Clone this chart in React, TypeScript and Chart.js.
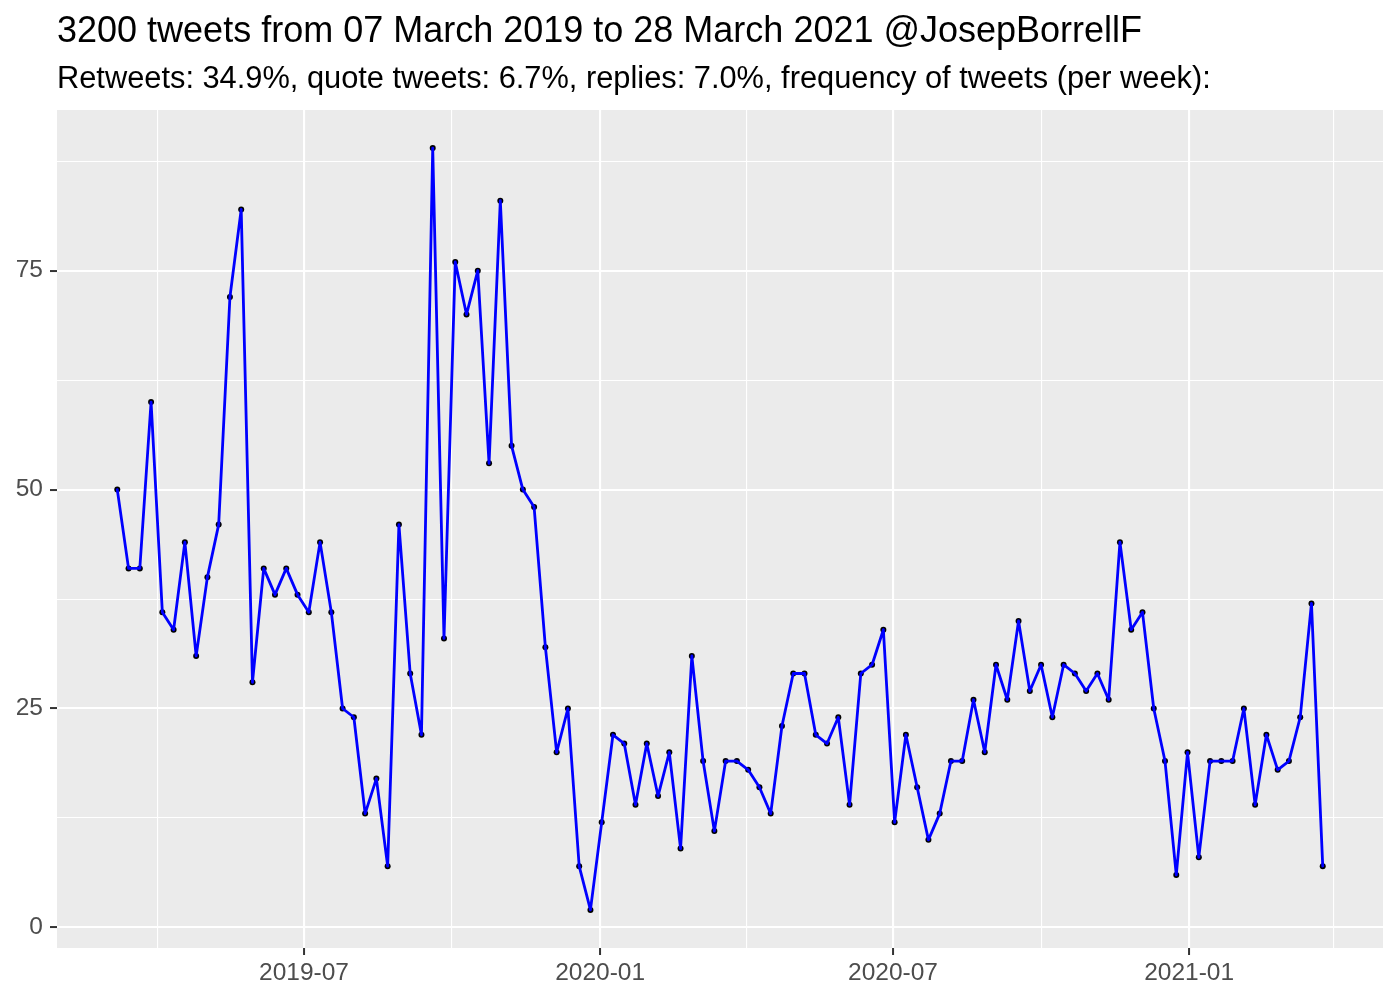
import React, { useEffect, useRef } from 'react';
import { Chart, registerables } from 'chart.js';

Chart.register(...registerables);

const chartTitle = '3200 tweets from 07 March 2019 to 28 March 2021 @JosepBorrellF';
const chartSubtitle =
  'Retweets: 34.9%, quote tweets: 6.7%, replies: 7.0%, frequency of tweets (per week):';

const weekStarts = [
  '2019-03-07', '2019-03-14', '2019-03-21', '2019-03-28', '2019-04-04', '2019-04-11',
  '2019-04-18', '2019-04-25', '2019-05-02', '2019-05-09', '2019-05-16', '2019-05-23',
  '2019-05-30', '2019-06-06', '2019-06-13', '2019-06-20', '2019-06-27', '2019-07-04',
  '2019-07-11', '2019-07-18', '2019-07-25', '2019-08-01', '2019-08-08', '2019-08-15',
  '2019-08-22', '2019-08-29', '2019-09-05', '2019-09-12', '2019-09-19', '2019-09-26',
  '2019-10-03', '2019-10-10', '2019-10-17', '2019-10-24', '2019-10-31', '2019-11-07',
  '2019-11-14', '2019-11-21', '2019-11-28', '2019-12-05', '2019-12-12', '2019-12-19',
  '2019-12-26', '2020-01-02', '2020-01-09', '2020-01-16', '2020-01-23', '2020-01-30',
  '2020-02-06', '2020-02-13', '2020-02-20', '2020-02-27', '2020-03-05', '2020-03-12',
  '2020-03-19', '2020-03-26', '2020-04-02', '2020-04-09', '2020-04-16', '2020-04-23',
  '2020-04-30', '2020-05-07', '2020-05-14', '2020-05-21', '2020-05-28', '2020-06-04',
  '2020-06-11', '2020-06-18', '2020-06-25', '2020-07-02', '2020-07-09', '2020-07-16',
  '2020-07-23', '2020-07-30', '2020-08-06', '2020-08-13', '2020-08-20', '2020-08-27',
  '2020-09-03', '2020-09-10', '2020-09-17', '2020-09-24', '2020-10-01', '2020-10-08',
  '2020-10-15', '2020-10-22', '2020-10-29', '2020-11-05', '2020-11-12', '2020-11-19',
  '2020-11-26', '2020-12-03', '2020-12-10', '2020-12-17', '2020-12-24', '2020-12-31',
  '2021-01-07', '2021-01-14', '2021-01-21', '2021-01-28', '2021-02-04', '2021-02-11',
  '2021-02-18', '2021-02-25', '2021-03-04', '2021-03-11', '2021-03-18', '2021-03-25',
];

const tweetsPerWeek = [
  50, 41, 41, 60, 36, 34, 44, 31, 40, 46, 72, 82,
  28, 41, 38, 41, 38, 36, 44, 36, 25, 24, 13, 17,
  7, 46, 29, 22, 89, 33, 76, 70, 75, 53, 83, 55,
  50, 48, 32, 20, 25, 7, 2, 12, 22, 21, 14, 21,
  15, 20, 9, 31, 19, 11, 19, 19, 18, 16, 13, 23,
  29, 29, 22, 21, 24, 14, 29, 30, 34, 12, 22, 16,
  10, 13, 19, 19, 26, 20, 30, 26, 35, 27, 30, 24,
  30, 29, 27, 29, 26, 44, 34, 36, 25, 19, 6, 20,
  8, 19, 19, 19, 25, 14, 22, 18, 19, 24, 37, 7,
];

const xMajorTicks = ['2019-07-01', '2020-01-01', '2020-07-01', '2021-01-01'];
const xMajorLabels = ['2019-07', '2020-01', '2020-07', '2021-01'];
const xMinorTicks = ['2019-04-01', '2019-10-01', '2020-04-01', '2020-10-01', '2021-04-01'];
const yMajorTicks = [0, 25, 50, 75];
const yMinorTicks = [12.5, 37.5, 62.5, 87.5];

const FONT = '"Liberation Sans", Arial, Helvetica, sans-serif';
const toMs = (s: string) => Date.parse(s + 'T00:00:00Z');

export default function App() {
  const ref = useRef<HTMLCanvasElement>(null);

  useEffect(() => {
    const canvas = ref.current;
    if (!canvas) return;

    const xs = weekStarts.map(toMs);
    const xSpan = xs[xs.length - 1] - xs[0];
    const xMin = xs[0] - xSpan * 0.05;
    const xMax = xs[xs.length - 1] + xSpan * 0.05;
    const yLo = Math.min(...tweetsPerWeek);
    const yHi = Math.max(...tweetsPerWeek);
    const ySpan = yHi - yLo;
    const yMin = yLo - ySpan * 0.05;
    const yMax = yHi + ySpan * 0.05;

    const points = xs.map((x, i) => ({ x, y: tweetsPerWeek[i] }));

    const majorXSet = new Set(xMajorTicks.map(toMs));
    const xLabelMap = new Map<number, string>(
      xMajorTicks.map((d, i) => [toMs(d), xMajorLabels[i]])
    );
    const xTickVals = [...xMajorTicks, ...xMinorTicks].map(toMs).sort((a, b) => a - b);
    const majorYSet = new Set(yMajorTicks);
    const yTickVals = [...yMajorTicks, ...yMinorTicks].sort((a, b) => a - b);

    const panelBg = {
      id: 'panelBg',
      beforeDraw(chart: any) {
        const { ctx, chartArea } = chart;
        ctx.save();
        ctx.fillStyle = '#EBEBEB';
        ctx.fillRect(
          chartArea.left,
          chartArea.top,
          chartArea.right - chartArea.left,
          chartArea.bottom - chartArea.top
        );
        ctx.restore();
      },
    };

    const titles = {
      id: 'ggTitles',
      afterDraw(chart: any) {
        const { ctx, chartArea } = chart;
        ctx.save();
        ctx.fillStyle = '#000000';
        ctx.textAlign = 'left';
        ctx.textBaseline = 'alphabetic';
        ctx.font = `36px ${FONT}`;
        ctx.fillText(chartTitle, chartArea.left, 42);
        ctx.font = `30.8px ${FONT}`;
        ctx.fillText(chartSubtitle, chartArea.left, 88);
        ctx.restore();
      },
    };

    const chart = new Chart(canvas, {
      type: 'line',
      data: {
        datasets: [
          {
            data: points,
            borderColor: '#0000FF',
            borderWidth: 2.8,
            borderJoinStyle: 'round',
            borderCapStyle: 'round',
            pointRadius: 0,
            tension: 0,
            order: 1,
          },
          {
            data: points,
            showLine: false,
            pointRadius: 3,
            pointBackgroundColor: '#000000',
            pointBorderWidth: 0,
            order: 2,
          },
        ],
      },
      options: {
        responsive: false,
        maintainAspectRatio: false,
        animation: false,
        layout: { padding: { top: 110, right: 17, left: 0, bottom: 0 } },
        plugins: {
          legend: { display: false },
          tooltip: { enabled: false },
          title: { display: false },
        },
        scales: {
          x: {
            type: 'linear',
            min: xMin,
            max: xMax,
            afterBuildTicks: (s: any) => {
              s.ticks = xTickVals.map((v) => ({ value: v }));
            },
            afterFit: (s: any) => {
              s.height = 52;
            },
            border: { display: false },
            grid: {
              color: '#FFFFFF',
              lineWidth: (ctx: any) => (ctx.tick && majorXSet.has(ctx.tick.value) ? 2.1 : 1.1),
              drawTicks: true,
              tickLength: 7,
              tickWidth: 2,
              tickColor: (ctx: any) =>
                ctx.tick && majorXSet.has(ctx.tick.value) ? '#333333' : 'rgba(0,0,0,0)',
            },
            ticks: {
              autoSkip: false,
              maxRotation: 0,
              minRotation: 0,
              padding: 4,
              color: '#4D4D4D',
              font: { family: FONT, size: 24.5 },
              callback: (v: any) => xLabelMap.get(Number(v)) ?? '',
            },
          },
          y: {
            type: 'linear',
            min: yMin,
            max: yMax,
            afterBuildTicks: (s: any) => {
              s.ticks = yTickVals.map((v) => ({ value: v }));
            },
            afterFit: (s: any) => {
              s.width = 57;
            },
            border: { display: false },
            grid: {
              color: '#FFFFFF',
              lineWidth: (ctx: any) => (ctx.tick && majorYSet.has(ctx.tick.value) ? 2.1 : 1.1),
              drawTicks: true,
              tickLength: 7,
              tickWidth: 2,
              tickColor: (ctx: any) =>
                ctx.tick && majorYSet.has(ctx.tick.value) ? '#333333' : 'rgba(0,0,0,0)',
            },
            ticks: {
              autoSkip: false,
              padding: 7,
              color: '#4D4D4D',
              font: { family: FONT, size: 24.5 },
              callback: (v: any) => (majorYSet.has(Number(v)) ? String(v) : ''),
            },
          },
        },
      },
      plugins: [panelBg, titles],
    } as any);

    return () => chart.destroy();
  }, []);

  return (
    <div
      style={{
        position: 'absolute',
        left: 0,
        top: 0,
        width: 1400,
        height: 1000,
        background: '#FFFFFF',
      }}
    >
      <canvas ref={ref} width={1400} height={1000} style={{ display: 'block' }} />
    </div>
  );
}
